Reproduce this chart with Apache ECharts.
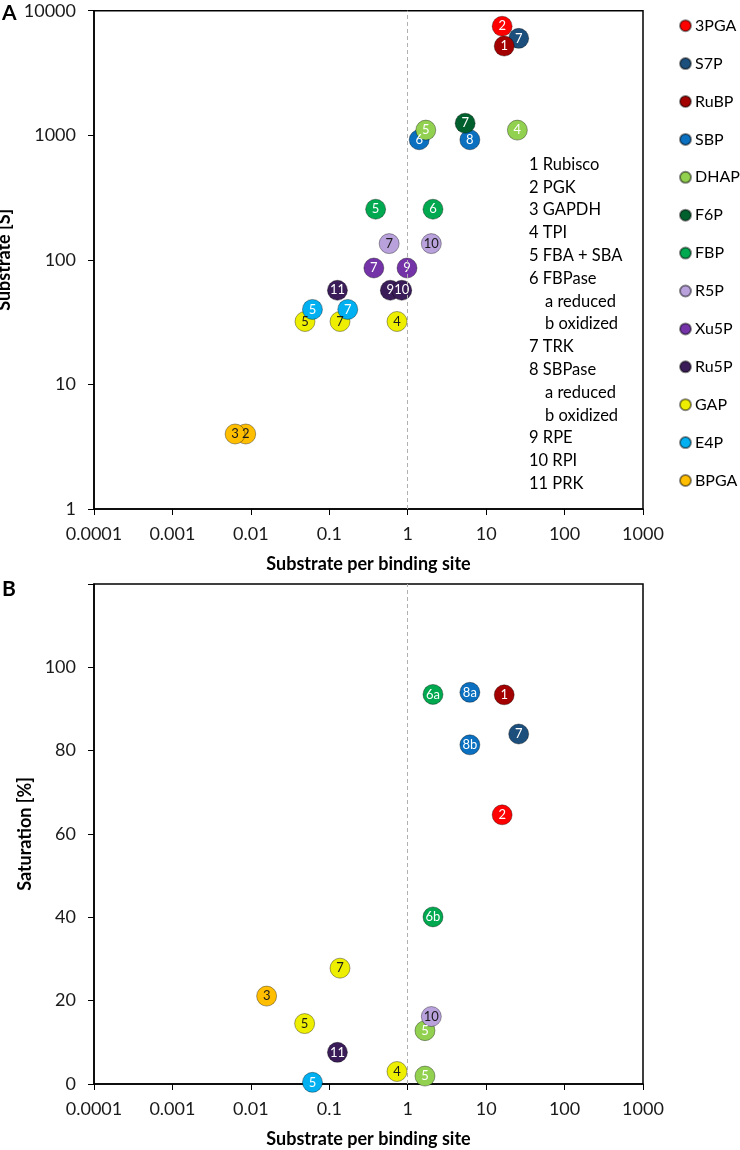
<!DOCTYPE html>
<html>
<head>
<meta charset="utf-8">
<script src="https://cdn.jsdelivr.net/npm/echarts@6/dist/echarts.min.js"></script>
<style>
  html, body { margin: 0; padding: 0; background: #fff; }
  #chart { width: 740px; height: 1150px; }
</style>
</head>
<body>
<div id="chart"></div>
<script>
// ---------------- data ----------------
const metabolites = ['3PGA', 'S7P', 'RuBP', 'SBP', 'DHAP', 'F6P', 'FBP', 'R5P', 'Xu5P', 'Ru5P', 'GAP', 'E4P', 'BPGA'];

// Panel A: [metabolite, substrate per binding site, substrate [S], enzyme label]
const pointsA = [
  ['3PGA', 16, 7500, '2'],
  ['S7P', 26, 6000, '7'],
  ['RuBP', 17, 5200, '1'],
  ['SBP', 1.4, 920, '6'],
  ['SBP', 6.2, 920, '8'],
  ['DHAP', 1.7, 1100, '5'],
  ['DHAP', 25, 1100, '4'],
  ['F6P', 5.4, 1250, '7'],
  ['FBP', 0.39, 255, '5'],
  ['FBP', 2.1, 255, '6'],
  ['R5P', 0.58, 135, '7'],
  ['R5P', 2.0, 135, '10'],
  ['Xu5P', 0.37, 86, '7'],
  ['Xu5P', 0.98, 86, '9'],
  ['Ru5P', 0.127, 57, '11'],
  ['Ru5P', 0.6, 57, '9'],
  ['Ru5P', 0.84, 57, '10'],
  ['GAP', 0.049, 32, '5'],
  ['GAP', 0.137, 32, '7'],
  ['GAP', 0.73, 32, '4'],
  ['E4P', 0.061, 40, '5'],
  ['E4P', 0.172, 40, '7'],
  ['BPGA', 0.0086, 4, '2'],
  ['BPGA', 0.0063, 4, '3']
];

// Panel B: [metabolite, substrate per binding site, saturation %, enzyme label]
const pointsB = [
  ['FBP', 2.1, 93.5, '6a'],
  ['SBP', 6.2, 94.0, '8a'],
  ['RuBP', 17, 93.4, '1'],
  ['S7P', 26, 84.0, '7'],
  ['SBP', 6.2, 81.4, '8b'],
  ['3PGA', 16, 64.6, '2'],
  ['FBP', 2.1, 40.1, '6b'],
  ['DHAP', 1.66, 12.8, '5'],
  ['R5P', 2.0, 16.2, '10'],
  ['GAP', 0.73, 3.0, '4'],
  ['DHAP', 1.66, 1.9, '5'],
  ['GAP', 0.137, 27.8, '7'],
  ['BPGA', 0.0159, 21.1, '3'],
  ['GAP', 0.0485, 14.5, '5'],
  ['Ru5P', 0.127, 7.6, '11'],
  ['E4P', 0.061, 0.4, '5']
];

const xTickLabels = ['0.0001', '0.001', '0.01', '0.1', '1', '10', '100', '1000'];
const yTickLabelsA = ['1', '10', '100', '1000', '10000'];
const yTickLabelsB = ['0', '20', '40', '60', '80', '100', ''];
const refX = 1;

const enzymeNotes = ['1 Rubisco', '2 PGK', '3 GAPDH', '4 TPI', '5 FBA + SBA', '6 FBPase', 'a reduced', 'b oxidized',
  '7 TRK', '8 SBPase', 'a reduced', 'b oxidized', '9 RPE', '10 RPI', '11 PRK'];

// ---------------- styles ----------------
const colors = {
  '3PGA': '#ff0000', 'S7P': '#1c4f7c', 'RuBP': '#a30000', 'SBP': '#0a70bf', 'DHAP': '#92d050',
  'F6P': '#00602d', 'FBP': '#00a84f', 'R5P': '#b9a2dc', 'Xu5P': '#7434a8', 'Ru5P': '#3a1d58',
  'GAP': '#eeee00', 'E4P': '#00b0f0', 'BPGA': '#ffbe00'
};
const darkLabel = { 'GAP': 1, 'BPGA': 1, 'R5P': 1 };
const FONT = 'Lato, "Open Sans", sans-serif';

// ---------------- chart ----------------
const chart = echarts.init(document.getElementById('chart'), null, { renderer: 'canvas' });

function logLabel(v) {
  const i = Math.round(Math.log10(v));
  return xTickLabels[i + 4] !== undefined ? xTickLabels[i + 4] : '';
}
function logLabelY(v) {
  const i = Math.round(Math.log10(v));
  return yTickLabelsA[i] !== undefined ? yTickLabelsA[i] : '';
}

function makeSeries(points, gridIdx) {
  return metabolites.map(m => ({
    name: m,
    type: 'scatter',
    xAxisIndex: gridIdx,
    yAxisIndex: gridIdx,
    symbol: 'circle',
    symbolSize: 20,
    z: 3,
    itemStyle: { color: colors[m], borderColor: 'rgba(0,0,0,0.45)', borderWidth: 0.8, opacity: 1 },
    label: {
      show: true, position: 'inside', formatter: '{b}', fontFamily: FONT, fontSize: 13,
      color: darkLabel[m] ? '#1a1a1a' : '#ffffff'
    },
    emphasis: { disabled: true },
    data: points.filter(p => p[0] === m).map(p => ({ name: p[3], value: [p[1], p[2]] }))
  }));
}

function refSeries(gridIdx) {
  return {
    name: '__ref' + gridIdx, type: 'scatter', xAxisIndex: gridIdx, yAxisIndex: gridIdx, z: 1, data: [],
    markLine: {
      silent: true, symbol: 'none', label: { show: false },
      lineStyle: { color: '#b0b0b0', type: [4, 3], width: 1 },
      data: [{ xAxis: refX }]
    }
  };
}

const axisLineStyle = { show: true, lineStyle: { color: '#000', width: 1.5 } };
const tickStyle = { show: true, inside: false, length: 6, lineStyle: { color: '#000', width: 1 } };
const labelStyle = { fontFamily: FONT, fontSize: 18, color: '#1a1a1a' };
const nameStyle = { fontFamily: FONT, fontSize: 18, fontWeight: 'bold', color: '#000' };

const noteGraphics = enzymeNotes.map((t, i) => ({
  type: 'text',
  left: /^[ab] /.test(t) ? 545 : 529,
  top: 156 + i * 22.8,
  style: { text: t, font: '16.5px ' + FONT, fill: '#000' }
}));

const option = {
  animation: false,
  backgroundColor: '#fff',
  grid: [
    { left: 94, top: 10.7, width: 549, height: 498.3, show: true, borderColor: '#000', borderWidth: 1.5, containLabel: false, outerBoundsMode: 'none' },
    { left: 94, top: 584, width: 549, height: 500, show: true, borderColor: '#000', borderWidth: 1.5, containLabel: false, outerBoundsMode: 'none' }
  ],
  xAxis: [0, 1].map(g => ({
    type: 'log', logBase: 10, gridIndex: g, min: 0.0001, max: 1000, splitNumber: 7,
    axisLine: axisLineStyle, axisTick: tickStyle, minorTick: { show: false },
    splitLine: { show: false },
    axisLabel: Object.assign({ margin: 16, formatter: logLabel, showMinLabel: true, showMaxLabel: true }, labelStyle),
    name: 'Substrate per binding site', nameLocation: 'middle', nameGap: 46, nameTextStyle: nameStyle
  })),
  yAxis: [
    {
      type: 'log', logBase: 10, gridIndex: 0, min: 1, max: 10000, splitNumber: 4,
      axisLine: axisLineStyle, axisTick: tickStyle, splitLine: { show: false }, minorTick: { show: false },
      axisLabel: Object.assign({ margin: 18, formatter: logLabelY, showMinLabel: true, showMaxLabel: true }, labelStyle),
      name: 'Substrate [S]', nameLocation: 'middle', nameGap: 74, nameTextStyle: nameStyle
    },
    {
      type: 'value', gridIndex: 1, min: 0, max: 120, interval: 20,
      axisLine: axisLineStyle, axisTick: tickStyle, splitLine: { show: false },
      axisLabel: Object.assign({ margin: 18, formatter: v => yTickLabelsB[Math.round(v / 20)] || '' }, labelStyle),
      name: 'Saturation [%]', nameLocation: 'middle', nameGap: 54, nameTextStyle: nameStyle
    }
  ],
  legend: {
    data: metabolites,
    orient: 'vertical',
    left: 679,
    top: 15.7,
    padding: 0,
    icon: 'circle',
    itemWidth: 11,
    itemHeight: 11,
    itemGap: 17.9,
    selectedMode: false,
    textStyle: { fontFamily: FONT, fontSize: 16, color: '#000', lineHeight: 20, padding: [0, 0, 0, -1] }
  },
  graphic: [
    { type: 'text', left: 2, top: 3, style: { text: 'A', font: 'bold 21px ' + FONT, fill: '#000' } },
    { type: 'text', left: 2, top: 579, style: { text: 'B', font: 'bold 21px ' + FONT, fill: '#000' } }
  ].concat(noteGraphics),
  series: [refSeries(0), refSeries(1)].concat(makeSeries(pointsA, 0), makeSeries(pointsB, 1))
};

chart.setOption(option);
</script>
</body>
</html>
